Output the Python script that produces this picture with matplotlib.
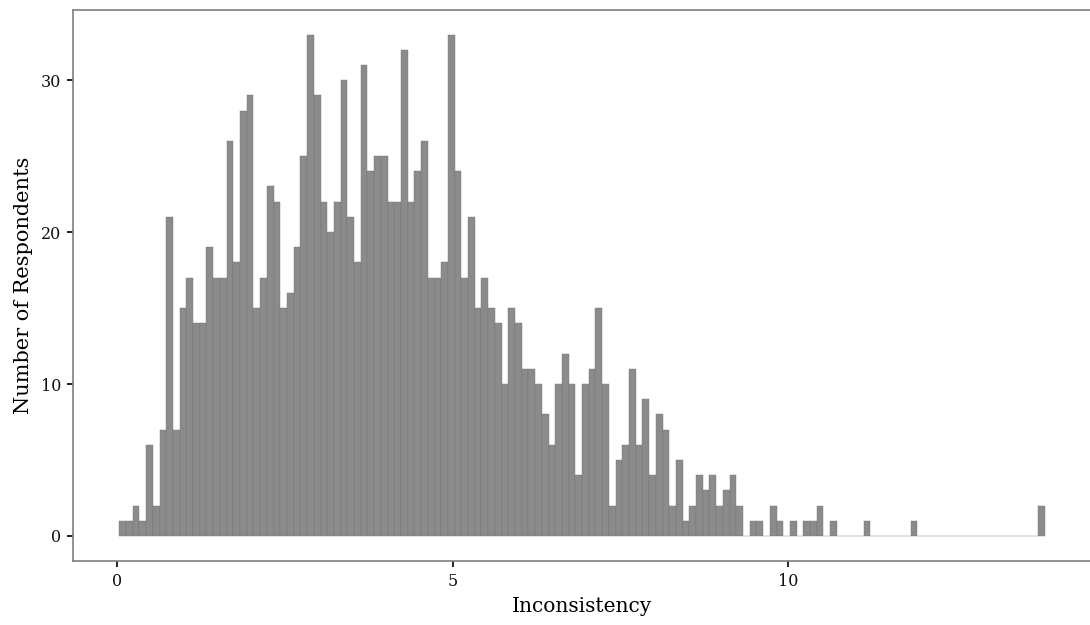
import matplotlib.pyplot as plt
import numpy as np

# Histogram counts per bin (bin width 0.1, first bin starts at 0.03)
counts = [
    1, 1, 2, 1, 6, 2, 7, 21, 7, 15,
    17, 14, 14, 19, 17, 17, 26, 18, 28, 29,
    15, 17, 23, 22, 15, 16, 19, 25, 33, 29,
    22, 20, 22, 30, 21, 18, 31, 24, 25, 25,
    22, 22, 32, 22, 24, 26, 17, 17, 18, 33,
    24, 17, 21, 15, 17, 15, 14, 10, 15, 14,
    11, 11, 10, 8, 6, 10, 12, 10, 4, 10,
    11, 15, 10, 2, 5, 6, 11, 6, 9, 4,
    8, 7, 2, 5, 1, 2, 4, 3, 4, 2,
    3, 4, 2, 0, 1, 1, 0, 2, 1, 0,
    1, 0, 1, 1, 2, 0, 1, 0, 0, 0,
    0, 1, 0, 0, 0, 0, 0, 0, 1, 0,
    0, 0, 0, 0, 0, 0, 0, 0, 0, 0,
    0, 0, 0, 0, 0, 0, 0, 2,
]
bin_start = 0.03
bin_width = 0.1
x_ticks = [0, 5, 10]
y_ticks = [0, 10, 20, 30]

counts = np.array(counts)
left_edges = bin_start + bin_width * np.arange(len(counts))

plt.rcParams["font.family"] = ["DejaVu Serif"]

fig = plt.figure(figsize=(10.9, 6.25), dpi=100)
ax = fig.add_axes([0.067, 0.1024, 0.934, 0.8824])

# Balken zeichnen
ax.bar(
    left_edges,
    counts,
    width=bin_width,
    align="edge",
    color="#8b8b8b",
    edgecolor="#767676",
    linewidth=0.3,
)

ax.set_xlim(-0.66, 14.52)
ax.set_ylim(-1.65, 34.65)
ax.set_xticks(x_ticks)
ax.set_yticks(y_ticks)

# Rahmen im ggplot-Stil
for side in ["left", "bottom", "top"]:
    ax.spines[side].set_color("#7f7f7f")
    ax.spines[side].set_linewidth(1.2)
ax.spines["right"].set_visible(False)

ax.tick_params(
    axis="both",
    direction="out",
    length=4.5,
    width=1.3,
    color="#111111",
    labelsize=11.5,
    labelcolor="#111111",
    pad=4,
)

ax.set_xlabel("Inconsistency", fontsize=14.5, labelpad=5)
ax.set_ylabel("Number of Respondents", fontsize=15, labelpad=6)

plt.savefig("out.png", dpi=100)
